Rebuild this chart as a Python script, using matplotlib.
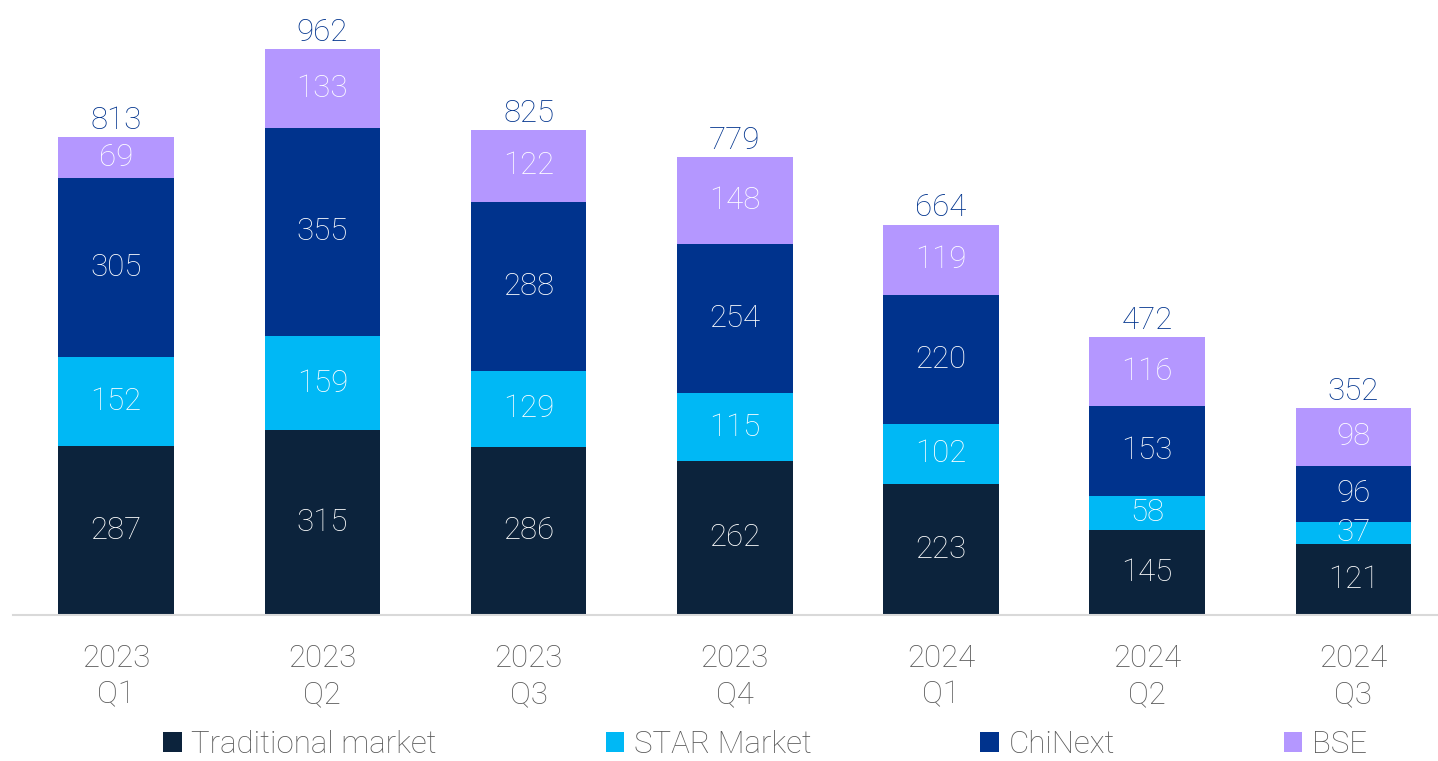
import numpy as np
import matplotlib as mp
mp.use('Agg')
import matplotlib.pyplot as plt

plt.rcParams['font.family'] = ['Roboto', 'DejaVu Sans']

quarters = ['2023\nQ1', '2023\nQ2', '2023\nQ3', '2023\nQ4', '2024\nQ1', '2024\nQ2', '2024\nQ3']
traditional = [287, 315, 286, 262, 223, 145, 121]
star = [152, 159, 129, 115, 102, 58, 37]
chinext = [305, 355, 288, 254, 220, 153, 96]
bse = [69, 133, 122, 148, 119, 116, 98]
totals = [813, 962, 825, 779, 664, 472, 352]

series = [('Traditional market', traditional, '#0C233C'),
          ('STAR Market', star, '#00B8F5'),
          ('ChiNext', chinext, '#00338D'),
          ('BSE', bse, '#B497FF')]

FS = 22.5
W = 'light'

fig = plt.figure(figsize=(14.38, 7.61), dpi=100)
ax = fig.add_axes([13/1438, 146/761, 1 - 13/1438, 588/761])

x = np.arange(len(quarters))
bottom = np.zeros(len(quarters))
for name, vals, col in series:
    ax.bar(x, vals, width=0.56, bottom=bottom, color=col, label=name)
    for xi, b, v in zip(x, bottom, vals):
        ax.text(xi, b + v / 2, str(v), ha='center', va='center', color='white', fontsize=FS, fontweight=W)
    bottom += np.array(vals)

for xi, t in zip(x, totals):
    ax.text(xi, t + 4, str(t), ha='center', va='bottom', color='#00338D', fontsize=FS, fontweight=W)

ax.set_xlim(-0.5, 6.41)
ax.set_ylim(0, 1000)
ax.set_xticks(x)
ax.set_xticklabels(quarters, fontsize=FS, color='#595959', fontweight=W, linespacing=1.3)
ax.tick_params(axis='x', length=0, pad=21)
ax.set_yticks([])
for s in ['top', 'right', 'left']:
    ax.spines[s].set_visible(False)
ax.spines['bottom'].set_color('#D9D9D9')
ax.spines['bottom'].set_linewidth(1.5)

leg = fig.legend(loc='lower center', bbox_to_anchor=(0.532, -0.034), ncol=4, frameon=False,
                 fontsize=FS, handlelength=0.6, handleheight=0.6, handletextpad=0.3, columnspacing=5.4)
for t in leg.get_texts():
    t.set_color('#595959')
    t.set_fontweight(W)

fig.savefig('out.png', dpi=100)
